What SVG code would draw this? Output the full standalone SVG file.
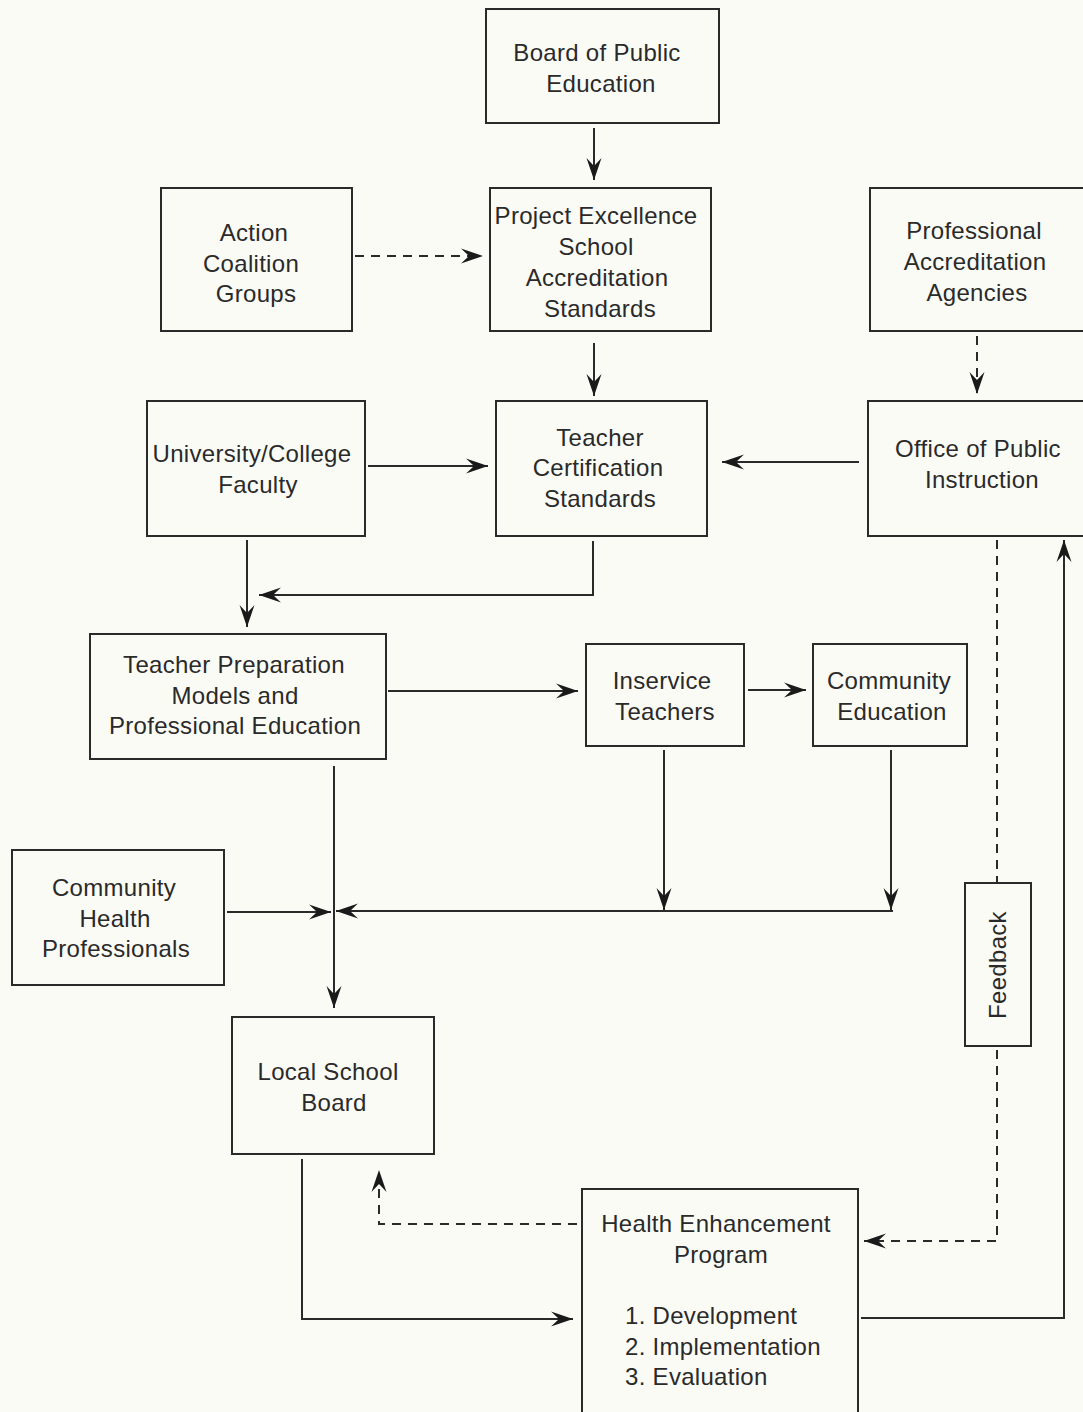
<svg xmlns="http://www.w3.org/2000/svg" width="1083" height="1412" viewBox="0 0 1083 1412">
<defs>
<marker id="ah" viewBox="-24 -9 26 18" refX="0" refY="0" markerWidth="26" markerHeight="18" markerUnits="userSpaceOnUse" orient="auto">
<path d="M0,0 L-22,-7.5 L-14,0 L-22,7.5 Z" fill="#1a1a1a"/>
</marker>
<style>
.box{fill:none;stroke:#2a2a2a;stroke-width:2}
.t{font-family:"Liberation Sans",Arial,sans-serif;font-size:24px;fill:#2a2a2a;text-anchor:middle;letter-spacing:0.3px}
.tl{text-anchor:start}
.c{fill:none;stroke:#2a2a2a;stroke-width:2}
.d{stroke-dasharray:9,7}
</style>
</defs>
<rect width="1083" height="1412" fill="#fbfbf6"/>
<g id="board"><rect class="box" x="486" y="9" width="233" height="114"/>
<text class="t" x="597" y="61">Board of Public</text><text class="t" x="601" y="92">Education</text></g>
<g id="project"><rect class="box" x="490" y="188" width="221" height="143"/>
<text class="t" x="596" y="224">Project Excellence</text><text class="t" x="596" y="255">School</text><text class="t" x="597" y="286">Accreditation</text><text class="t" x="600" y="317">Standards</text></g>
<g id="action"><rect class="box" x="161" y="188" width="191" height="143"/>
<text class="t" x="254" y="241">Action</text><text class="t" x="251" y="272">Coalition</text><text class="t" x="256" y="302">Groups</text></g>
<g id="profacc"><rect class="box" x="870" y="188" width="216" height="143"/>
<text class="t" x="974" y="239">Professional</text><text class="t" x="975" y="270">Accreditation</text><text class="t" x="977" y="301">Agencies</text></g>
<g id="univ"><rect class="box" x="147" y="401" width="218" height="135"/>
<text class="t" x="252" y="462">University/College</text><text class="t" x="258" y="493">Faculty</text></g>
<g id="tcert"><rect class="box" x="496" y="401" width="211" height="135"/>
<text class="t" x="600" y="446">Teacher</text><text class="t" x="598" y="476">Certification</text><text class="t" x="600" y="507">Standards</text></g>
<g id="office"><rect class="box" x="868" y="401" width="218" height="135"/>
<text class="t" x="978" y="457">Office of Public</text><text class="t" x="982" y="488">Instruction</text></g>
<g id="tprep"><rect class="box" x="90" y="634" width="296" height="125"/>
<text class="t" x="234" y="673">Teacher Preparation</text><text class="t" x="235" y="704">Models and</text><text class="t" x="235" y="734">Professional Education</text></g>
<g id="inservice"><rect class="box" x="586" y="644" width="158" height="102"/>
<text class="t" x="662" y="689">Inservice</text><text class="t" x="665" y="720">Teachers</text></g>
<g id="comed"><rect class="box" x="813" y="644" width="154" height="102"/>
<text class="t" x="889" y="689">Community</text><text class="t" x="892" y="720">Education</text></g>
<g id="chp"><rect class="box" x="12" y="850" width="212" height="135"/>
<text class="t" x="114" y="896">Community</text><text class="t" x="115" y="927">Health</text><text class="t" x="116" y="957">Professionals</text></g>
<g id="lsb"><rect class="box" x="232" y="1017" width="202" height="137"/>
<text class="t" x="328" y="1080">Local School</text><text class="t" x="334" y="1111">Board</text></g>
<g id="feedback"><rect class="box" x="965" y="883" width="66" height="163"/>
<text class="t" transform="translate(1006,965) rotate(-90)">Feedback</text></g>
<g id="hep"><rect class="box" x="582" y="1189" width="276" height="230"/>
<text class="t" x="716" y="1232">Health Enhancement</text><text class="t" x="721" y="1263">Program</text>
<text class="t tl" x="625" y="1324">1. Development</text><text class="t tl" x="625" y="1355">2. Implementation</text><text class="t tl" x="625" y="1385">3. Evaluation</text></g>
<g id="connectors">
<path class="c" d="M594,128 V180" marker-end="url(#ah)"/>
<path class="c d" d="M355,256 H483" marker-end="url(#ah)"/>
<path class="c" d="M594,343 V396" marker-end="url(#ah)"/>
<path class="c d" d="M977,336 V394" marker-end="url(#ah)"/>
<path class="c" d="M368,466 H488" marker-end="url(#ah)"/>
<path class="c" d="M859,462 H722" marker-end="url(#ah)"/>
<path class="c" d="M247,540 V627" marker-end="url(#ah)"/>
<path class="c" d="M593,541 V595 H259" marker-end="url(#ah)"/>
<path class="c" d="M388,691 H578" marker-end="url(#ah)"/>
<path class="c" d="M748,690 H806" marker-end="url(#ah)"/>
<path class="c" d="M664,750 V910" marker-end="url(#ah)"/>
<path class="c" d="M891,750 V910" marker-end="url(#ah)"/>
<path class="c" d="M893,911 H336" marker-end="url(#ah)"/>
<path class="c" d="M227,912 H331" marker-end="url(#ah)"/>
<path class="c" d="M334,766 V1008" marker-end="url(#ah)"/>
<path class="c" d="M302,1159 V1319 H573" marker-end="url(#ah)"/>
<path class="c d" d="M577,1224 H379 V1170" marker-end="url(#ah)"/>
<path class="c d" d="M997,540 V883"/>
<path class="c d" d="M997,1050 V1241 H864" marker-end="url(#ah)"/>
<path class="c" d="M861,1318 H1064 V540" marker-end="url(#ah)"/>
</g>
</svg>
